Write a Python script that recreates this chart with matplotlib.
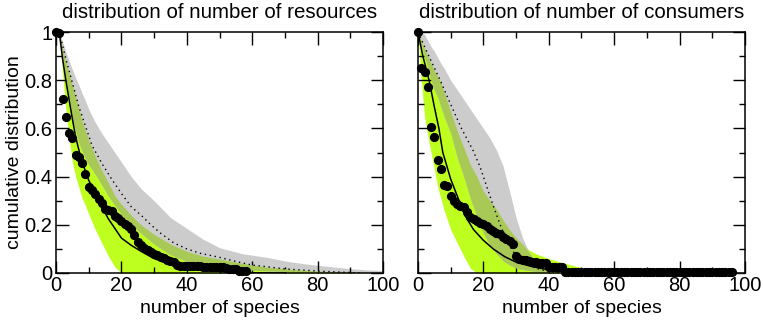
import numpy as np
import matplotlib.pyplot as plt
from matplotlib.ticker import MultipleLocator

plt.rcParams['font.family'] = ['Liberation Sans', 'DejaVu Sans']

# ---- left panel: number of resources ----
res_pts_x = list(range(59))
res_pts_y = [1.0, 0.995, 0.724, 0.646, 0.583, 0.562, 0.49, 0.48, 0.456, 0.41,
             0.355, 0.345, 0.329, 0.307, 0.29, 0.267, 0.262, 0.257, 0.238, 0.228,
             0.214, 0.204, 0.193, 0.182, 0.157, 0.128, 0.115, 0.104, 0.094, 0.086,
             0.079, 0.073, 0.065, 0.061, 0.055, 0.05, 0.044, 0.035, 0.03, 0.03,
             0.03, 0.028, 0.028, 0.028, 0.028, 0.024, 0.024, 0.024, 0.024, 0.024,
             0.024, 0.024, 0.022, 0.017, 0.017, 0.017, 0.01, 0.01, 0.01]

res_band_x = [1, 2, 3, 4, 5, 6, 7, 8, 9, 10, 12, 14, 16, 18, 20, 23, 26, 30, 35, 40,
              45, 50, 57, 64, 70, 75, 80, 85, 90, 95, 100]
res_green_lo = [1.0, 0.83, 0.68, 0.56, 0.46, 0.4, 0.355, 0.31, 0.28, 0.245, 0.18, 0.125,
                0.07, 0.025, 0, 0, 0, 0, 0, 0, 0, 0, 0, 0, 0, 0, 0, 0, 0, 0, 0]
res_green_hi = [1.0, 0.93, 0.875, 0.83, 0.78, 0.73, 0.68, 0.63, 0.59, 0.55, 0.485, 0.425,
                0.375, 0.32, 0.285, 0.24, 0.2, 0.16, 0.12, 0.09, 0.07, 0.058, 0.04, 0.025,
                0.018, 0.012, 0.008, 0.005, 0.002, 0, 0]
res_gray_lo = [1.0, 0.9, 0.8, 0.72, 0.64, 0.59, 0.54, 0.505, 0.475, 0.45, 0.41, 0.365,
               0.32, 0.28, 0.245, 0.2, 0.165, 0.12, 0.075, 0.048, 0.03, 0.022, 0.014, 0.009,
               0.006, 0.005, 0.004, 0.003, 0.003, 0.002, 0.002]
res_gray_hi = [1.0, 0.96, 0.92, 0.88, 0.845, 0.81, 0.78, 0.745, 0.715, 0.68, 0.625, 0.58,
               0.54, 0.5, 0.46, 0.4, 0.35, 0.3, 0.23, 0.185, 0.14, 0.105, 0.08, 0.066,
               0.05, 0.04, 0.032, 0.025, 0.018, 0.013, 0.01]

res_solid_x = [1, 2, 3, 4, 5, 6, 7, 8, 10, 12, 14, 16, 18, 20, 23, 26, 30, 35, 40, 45,
               50, 55, 60, 70]
res_solid_y = [1.0, 0.89, 0.8, 0.72, 0.64, 0.565, 0.51, 0.46, 0.385, 0.33, 0.275, 0.225,
               0.185, 0.145, 0.115, 0.09, 0.06, 0.035, 0.02, 0.012, 0.007, 0.003, 0.001, 0]
res_dot_x = [1, 3, 5, 7, 9, 11, 14, 17, 20, 23, 26, 29, 32, 36, 40, 44, 50, 55, 60, 70,
             80, 85, 90, 94]
res_dot_y = [1.0, 0.89, 0.79, 0.69, 0.61, 0.53, 0.455, 0.39, 0.33, 0.275, 0.24, 0.2, 0.165,
             0.125, 0.1, 0.082, 0.065, 0.048, 0.033, 0.017, 0.008, 0.005, 0.002, 0]

# ---- right panel: number of consumers ----
con_pts_x = list(range(97))
con_pts_y = ([1.0, 0.849, 0.835, 0.772, 0.604, 0.563, 0.47, 0.43, 0.367, 0.362,
              0.319, 0.3, 0.285, 0.278, 0.275, 0.254, 0.234, 0.223, 0.217, 0.209,
              0.202, 0.193, 0.184, 0.176, 0.168, 0.161, 0.151, 0.14, 0.131, 0.12,
              0.069, 0.058, 0.055, 0.052, 0.05, 0.047, 0.044, 0.041, 0.041, 0.041,
              0.025, 0.025, 0.025, 0.025, 0.025]
             + [0.006] * 52)

con_band_x = [0, 1, 2, 3, 4, 5, 6, 7, 8, 10, 12, 14, 16, 18, 20, 22, 24, 26, 28, 30,
              32, 34, 36, 38, 40, 42, 45, 50, 55, 60, 70, 80, 90, 100]
con_green_lo = [1.0, 0.8, 0.65, 0.57, 0.5, 0.43, 0.36, 0.31, 0.26, 0.18, 0.125, 0.07,
                0.02, 0, 0, 0, 0, 0, 0, 0, 0, 0, 0, 0, 0, 0, 0, 0, 0, 0, 0, 0, 0, 0]
con_green_hi = [1.0, 0.965, 0.93, 0.9, 0.87, 0.84, 0.815, 0.79, 0.75, 0.67, 0.59, 0.52,
                0.45, 0.4, 0.34, 0.3, 0.265, 0.22, 0.18, 0.145, 0.12, 0.095, 0.08, 0.07,
                0.06, 0.052, 0.04, 0.022, 0.009, 0.003, 0.002, 0.002, 0.002, 0.002]
con_gray_lo = [1.0, 0.95, 0.9, 0.85, 0.8, 0.76, 0.73, 0.69, 0.65, 0.58, 0.48, 0.4, 0.31,
               0.235, 0.165, 0.115, 0.08, 0.05, 0.033, 0.02, 0.014, 0.01, 0.007, 0.006,
               0.005, 0.004, 0.003, 0.002, 0.002, 0.001, 0.001, 0, 0, 0]
con_gray_hi = [1.0, 1.0, 0.99, 0.965, 0.94, 0.92, 0.895, 0.87, 0.85, 0.8, 0.76, 0.72,
               0.68, 0.64, 0.6, 0.56, 0.51, 0.445, 0.34, 0.23, 0.145, 0.085, 0.045, 0.025,
               0.015, 0.012, 0.008, 0.006, 0.005, 0.004, 0.003, 0.003, 0.002, 0.002]

con_solid_x = [0, 1.5, 3.4, 5, 6.4, 7.6, 10, 12, 14.3, 17, 19.9, 23, 26.5, 30, 34.7, 40,
               45, 50, 55]
con_solid_y = [1.0, 0.9, 0.8, 0.69, 0.6, 0.5, 0.39, 0.32, 0.24, 0.18, 0.137, 0.1, 0.068,
               0.045, 0.027, 0.013, 0.006, 0.002, 0]
con_dot_x = [0, 3, 6.8, 10, 13.3, 16.8, 19, 21, 23, 25, 27, 29, 32, 36, 40, 45]
con_dot_y = [1.0, 0.91, 0.8, 0.7, 0.6, 0.51, 0.44, 0.36, 0.28, 0.205, 0.14, 0.09, 0.05,
             0.02, 0.006, 0.001]

LIME = '#bfff1f'
GRAY = '#cccccc'
OLIVE = '#a9c957'
TICK_FS = 14.5
LABEL_FS = 14
TITLE_FS = 14.8


def draw_panel(ax, bx, glo, ghi, rlo, rhi, sx, sy, dx, dy, px, py, title):
    bx = np.asarray(bx, dtype=float)
    glo, ghi = np.asarray(glo), np.asarray(ghi)
    rlo, rhi = np.asarray(rlo), np.asarray(rhi)
    ax.fill_between(bx, glo, ghi, color=LIME, lw=0, zorder=1)
    ax.fill_between(bx, rlo, rhi, color=GRAY, lw=0, zorder=1)
    # overlap of both bands
    lo = np.maximum(glo, rlo)
    hi = np.minimum(ghi, rhi)
    ax.fill_between(bx, lo, hi, where=hi > lo, interpolate=True,
                    color=OLIVE, lw=0, zorder=2)
    ax.plot(sx, sy, color='black', lw=1.1, zorder=3)
    ax.plot(dx, dy, color='black', lw=1.0, ls=(0, (1, 2.6)), zorder=3)
    ax.plot(px, py, 'o', color='black', ms=5.6, clip_on=False, zorder=5)

    ax.set_xlim(0, 100)
    ax.set_ylim(0, 1)
    ax.xaxis.set_major_locator(MultipleLocator(20))
    ax.xaxis.set_minor_locator(MultipleLocator(10))
    ax.set_yticks([0, 0.2, 0.4, 0.6, 0.8, 1])
    ax.set_yticklabels(['0', '0.2', '0.4', '0.6', '0.8', '1'])
    ax.yaxis.set_minor_locator(MultipleLocator(0.1))
    ax.tick_params(which='both', direction='in', top=True, right=True,
                   width=1.0, labelsize=TICK_FS, pad=2.5)
    ax.tick_params(which='major', length=9)
    ax.tick_params(which='minor', length=4.5)
    for sp in ax.spines.values():
        sp.set_linewidth(1.1)
    ax.set_xlabel('number of species', fontsize=LABEL_FS, labelpad=3)
    ax.set_title(title, fontsize=TITLE_FS, pad=10)


fig = plt.figure(figsize=(7.63, 3.23), dpi=100)
ax1 = fig.add_axes([0.0734, 0.1548, 0.4286, 0.746])
ax2 = fig.add_axes([0.5478, 0.1548, 0.4286, 0.746])

draw_panel(ax1, res_band_x, res_green_lo, res_green_hi, res_gray_lo, res_gray_hi,
           res_solid_x, res_solid_y, res_dot_x, res_dot_y, res_pts_x, res_pts_y,
           'distribution of number of resources')
draw_panel(ax2, con_band_x, con_green_lo, con_green_hi, con_gray_lo, con_gray_hi,
           con_solid_x, con_solid_y, con_dot_x, con_dot_y, con_pts_x, con_pts_y,
           'distribution of number of consumers')

ax1.set_ylabel('cumulative distribution', fontsize=LABEL_FS, labelpad=1)
ax2.tick_params(labelleft=False)

fig.savefig('out.png', dpi=100)
